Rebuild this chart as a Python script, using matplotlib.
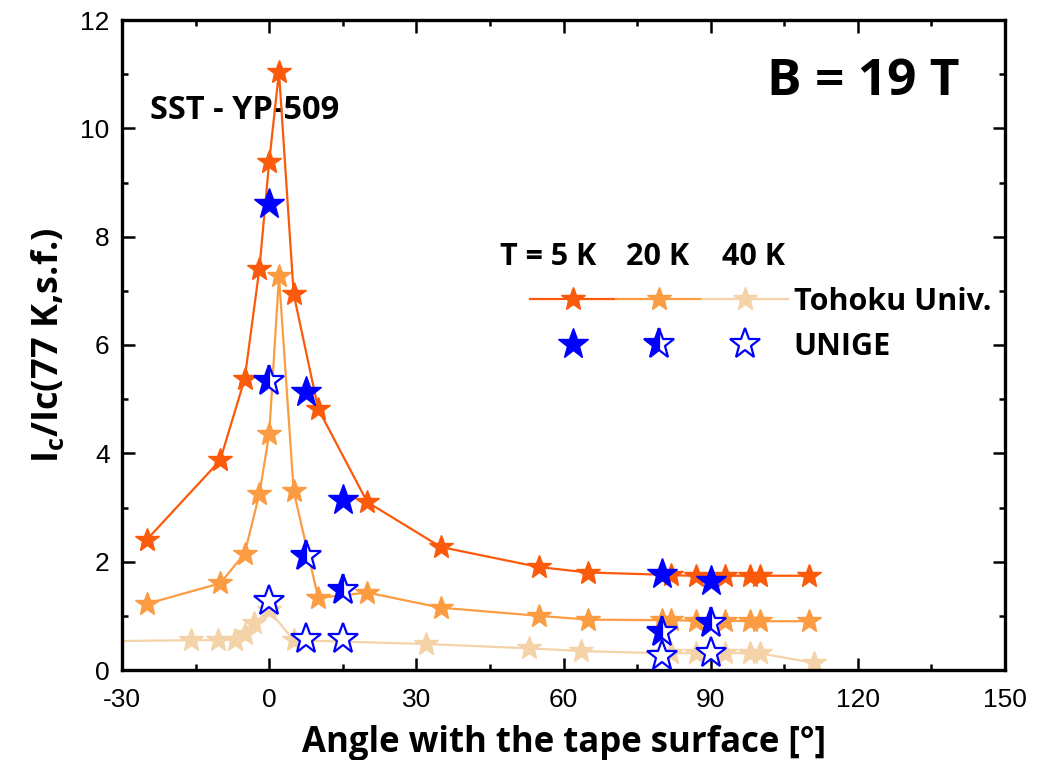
import numpy as np
import matplotlib
matplotlib.use("Agg")
import matplotlib.pyplot as plt
from matplotlib.legend_handler import HandlerTuple

# Tohoku Univ. data (angle in deg, Ic/Ic(77K,s.f.))
ang_5k = [-25, -10, -5, -2, 0, 2, 5, 10, 20, 35, 55, 65, 80, 82, 87, 93, 98, 100, 110]
ic_5k = [2.4, 3.87, 5.37, 7.4, 9.38, 11.04, 6.94, 4.82, 3.1, 2.27, 1.9, 1.8, 1.76, 1.75,
         1.74, 1.74, 1.74, 1.74, 1.74]

ang_20k = [-25, -10, -5, -2, 0, 2, 5, 10, 20, 35, 55, 65, 80, 82, 87, 93, 98, 100, 110]
ic_20k = [1.22, 1.6, 2.15, 3.25, 4.35, 7.27, 3.3, 1.33, 1.43, 1.15, 1.0, 0.93, 0.92, 0.92,
          0.91, 0.91, 0.9, 0.9, 0.9]

ang_40k = [-45, -16, -10.5, -7, -5, -3, 0, 5, 32, 53, 63.5, 80, 82, 87, 93, 98, 100, 111]
ic_40k = [0.52, 0.55, 0.55, 0.56, 0.66, 0.87, 1.1, 0.55, 0.48, 0.4, 0.35, 0.31, 0.31,
          0.31, 0.31, 0.31, 0.31, 0.13]

# UNIGE data
ang_unige = [0, 7.5, 15, 80, 90]
unige_5k = [8.6, 5.13, 3.14, 1.78, 1.64]
unige_20k = [5.33, 2.1, 1.47, 0.71, 0.86]
unige_40k = [1.27, 0.58, 0.58, 0.25, 0.31]

c5 = "#fa5a0a"
c20 = "#fb9c42"
c40 = "#f4d3a9"
blue = "#0000ff"

bold_font = "Open Sans"
tick_font = "Liberation Sans"

plt.rcParams["axes.unicode_minus"] = False
plt.rcParams["mathtext.fontset"] = "custom"
plt.rcParams["mathtext.rm"] = "Open Sans:bold"
plt.rcParams["mathtext.it"] = "Open Sans:bold"

fig = plt.figure(figsize=(10.56, 7.6), dpi=100)
ax = fig.add_axes([122 / 1056, 1 - 670 / 760, 883 / 1056, 650 / 760])

ms_t = 18
ms_u = 23
l40, = ax.plot(ang_40k, ic_40k, color=c40, lw=1.6, marker="*", ms=ms_t, mec=c40, zorder=2)
l20, = ax.plot(ang_20k, ic_20k, color=c20, lw=1.6, marker="*", ms=ms_t, mec=c20, zorder=3)
l5, = ax.plot(ang_5k, ic_5k, color=c5, lw=1.6, marker="*", ms=ms_t, mec=c5, zorder=4)

b5, = ax.plot(ang_unige, unige_5k, ls="none", marker="*", ms=ms_u, color=blue, mec=blue,
              zorder=6)
b20, = ax.plot(ang_unige, unige_20k, ls="none", marker="*", ms=ms_u, color=blue, mec=blue,
               mew=1.6, fillstyle="left", markerfacecoloralt="white", zorder=6)
b40, = ax.plot(ang_unige, unige_40k, ls="none", marker="*", ms=ms_u, mec=blue, mfc="white",
               mew=1.6, zorder=6)

ax.set_xlim(-30, 150)
ax.set_ylim(0, 12)
ax.set_xticks(np.arange(-30, 151, 30))
ax.set_xticks(np.arange(-30, 151, 15), minor=True)
ax.set_yticks(np.arange(0, 13, 2))
ax.set_yticks(np.arange(0, 13, 1), minor=True)

for s in ax.spines.values():
    s.set_linewidth(2.4)
ax.tick_params(which="both", direction="in", top=True, right=True, width=1.8)
ax.tick_params(which="major", length=9)
ax.tick_params(which="minor", length=4.5)
ax.tick_params(axis="x", pad=13)
ax.tick_params(axis="y", pad=9)
for lab in ax.get_xticklabels() + ax.get_yticklabels():
    lab.set_family(tick_font)
    lab.set_fontsize(19)

ax.set_xlabel("Angle with the tape surface [°]", fontsize=25, fontweight="bold",
              family=bold_font)
ax.xaxis.set_label_coords(0.5, -0.084)
ax.set_ylabel(r"I$_{\mathrm{c}}$/Ic(77 K,s.f.)", fontsize=26, fontweight="bold",
              family=bold_font)
ax.yaxis.set_label_coords(-0.062, 0.5)

ax.text(0.0317, 0.8615, "SST - YP-509", transform=ax.transAxes, fontsize=23.5,
        fontweight="bold", family=bold_font, va="center")
ax.text(0.949, 0.905, "B = 19 T", transform=ax.transAxes, fontsize=37,
        fontweight="bold", family=bold_font, va="center", ha="right")

# legend header
fig.text(500 / 1056, 1 - 257 / 760, "T = 5 K", fontsize=22, fontweight="bold",
         family=bold_font, va="center")
fig.text(658 / 1056, 1 - 257 / 760, "20 K", fontsize=22, fontweight="bold",
         family=bold_font, va="center", ha="center")
fig.text(753 / 1056, 1 - 257 / 760, "40 K", fontsize=22, fontweight="bold",
         family=bold_font, va="center", ha="center")

leg = ax.legend([(l5, l20, l40), (b5, b20, b40)], ["Tohoku Univ.", "UNIGE"],
                handler_map={tuple: HandlerTuple(ndivide=None, pad=0)},
                loc="center left", bbox_to_anchor=((530 - 122) / 883, (670 - 324.5) / 650),
                frameon=False, borderpad=0, borderaxespad=0, handlelength=8.43,
                handletextpad=0.2, labelspacing=0.5,
                prop={"family": bold_font, "weight": "bold", "size": 22})

fig.savefig("out.png", dpi=100)
